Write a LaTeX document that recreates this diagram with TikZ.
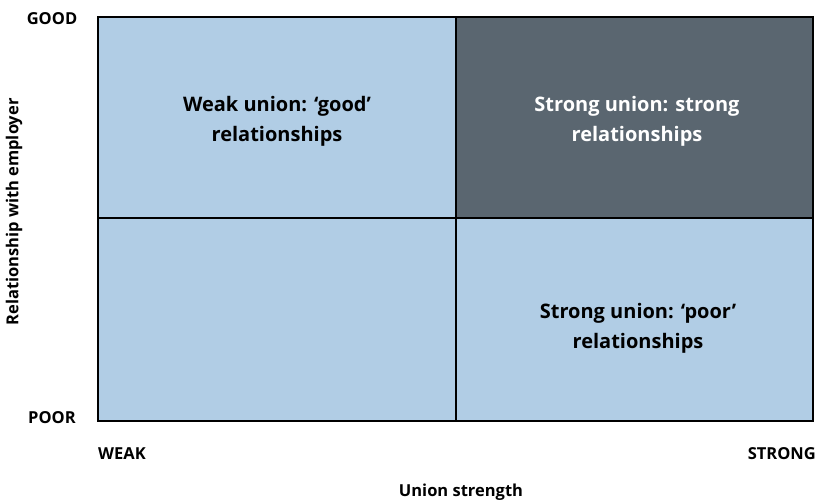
\documentclass[tikz,border=0pt]{standalone}
\usepackage{fontspec}
\setmainfont{Open Sans}
\usepackage{tikz}
\usetikzlibrary{calc,positioning}

\definecolor{cellblue}{HTML}{B1CDE5}
\definecolor{celldark}{HTML}{5A6670}

\tikzset{
    axislabel/.style={font=\fontsize{16.5}{19}\selectfont\bfseries, inner sep=0pt},
    celllabel/.style={font=\fontsize{20}{30}\selectfont\bfseries, align=center, inner sep=0pt}
}

\begin{document}
\begin{tikzpicture}[x=1pt,y=-1pt]
    \useasboundingbox (0,0) rectangle (821,501);

    % draw the cells
    \fill[cellblue] (98,17) rectangle (813,421);
    \fill[celldark] (456,17) rectangle (813,218);
    \draw[line width=1.6pt] (456,17) -- (456,421);
    \draw[line width=1.6pt] (98,218) -- (813,218);
    \draw[line width=1.6pt] (98,17) rectangle (813,421);

    % the texts in the cells
    \node[celllabel] (wg) at (277,121) {Weak union: `good'\\relationships};
    \node[celllabel, white] (ss) at (637,121) {Strong union: strong\\relationships};
    \node[celllabel] (sp) at (638,328) {Strong union: `poor'\\relationships};

    % the axis texts
    \node[axislabel] (good) at (52,19) {GOOD};
    \node[axislabel] (poor) at (52,418) {POOR};
    \node[axislabel, anchor=west] (weak) at (98,454) {WEAK};
    \node[axislabel, anchor=east] (strong) at (816,454) {STRONG};
    \node[axislabel] (xlabel) at (461,492) {Union strength};
    \node[axislabel, rotate=90] (ylabel) at (14,212) {Relationship with employer};

\end{tikzpicture}
\end{document}
